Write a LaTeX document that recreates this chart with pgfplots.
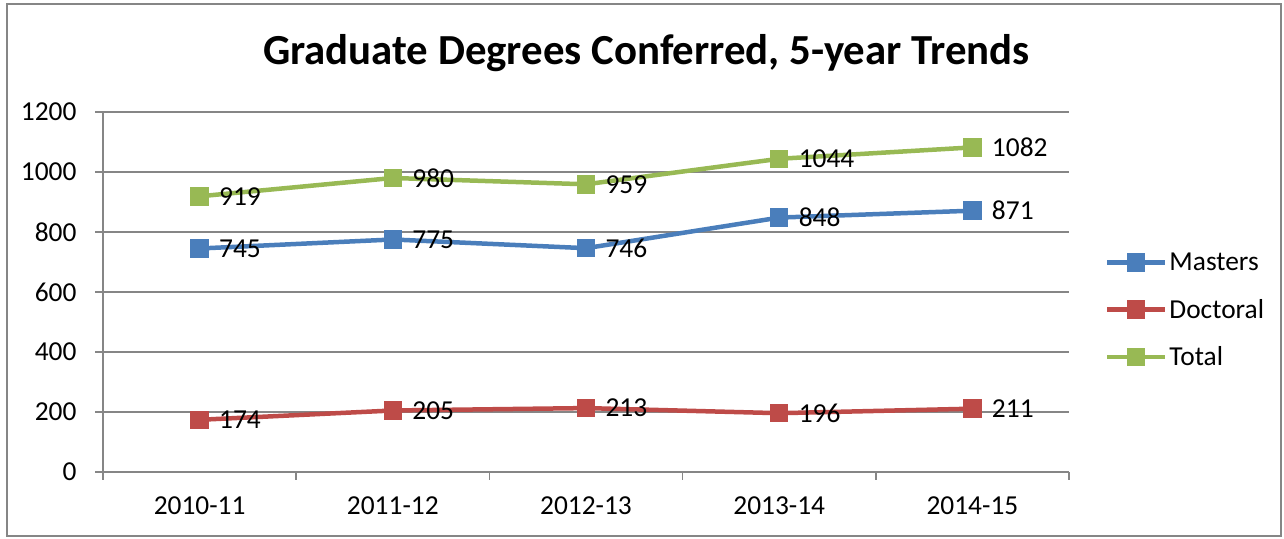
\documentclass[border=0pt]{standalone}
\usepackage{pgfplots}
\pgfplotsset{compat=1.18}
\usepackage{fontspec}
\setmainfont{Carlito}
\definecolor{cM}{HTML}{4A7EBB}
\definecolor{cD}{HTML}{BE4B48}
\definecolor{cT}{HTML}{98B954}
\definecolor{cG}{HTML}{868686}
\begin{document}
\begin{tikzpicture}[x=1bp,y=1bp]
\path (0,0) rectangle (1284,539);
\draw[color=cG, line width=1.2bp] (7,3) rectangle (1281,535);
\node[font=\fontsize{43}{48}\bfseries\selectfont] at (646.5,486) {Graduate Degrees Conferred, 5-year Trends};
\begin{axis}[at={(103bp,67bp)}, anchor=south west, scale only axis,
  width=966bp, height=360bp,
  xmin=-0.5, xmax=4.5, ymin=0, ymax=1200,
  xtick={-0.5,0.5,...,4.5}, xticklabels={,,,,,},
  extra x ticks={0,1,2,3,4},
  extra x tick labels={2010-11,2011-12,2012-13,2013-14,2014-15},
  extra x tick style={major tick length=0pt, xticklabel style={yshift=-21bp}},
  ytick={0,200,...,1200},
  ymajorgrids, grid style={cG, line width=1.6bp},
  axis x line*=bottom, axis y line*=left,
  axis line style={cG, line width=1.6bp},
  tick style={cG, line width=1.6bp}, tick align=outside,
  major tick length=8bp,
  /pgf/number format/assume math mode=true,
  /pgf/number format/1000 sep={},
  tick label style={font=\fontsize{27.5}{31}\selectfont},
  yticklabel style={xshift=-15bp},
  every axis plot/.append style={line width=4.5bp, mark=square*, mark size=7bp,
     mark options={solid}},
  nodes near coords,
  nodes near coords style={anchor=west, xshift=14bp, font=\fontsize{27.5}{31}\selectfont, text=black},
  legend style={at={(1.037,0.45)}, anchor=west, draw=none, fill=none,
     font=\fontsize{27.5}{31}\selectfont, row sep=23bp, inner sep=0pt},
  legend cell align=left,
  legend image code/.code={\draw[mark repeat=2,mark phase=2,#1] plot coordinates {(0bp,0bp) (29bp,0bp) (58bp,0bp)};},
  clip=false,
]
\addplot[color=cM] coordinates {(0,745) (1,775) (2,746) (3,848) (4,871)};
\addlegendentry{Masters}
\addplot[color=cD] coordinates {(0,174) (1,205) (2,213) (3,196) (4,211)};
\addlegendentry{Doctoral}
\addplot[color=cT] coordinates {(0,919) (1,980) (2,959) (3,1044) (4,1082)};
\addlegendentry{Total}
\end{axis}
\end{tikzpicture}
\end{document}
